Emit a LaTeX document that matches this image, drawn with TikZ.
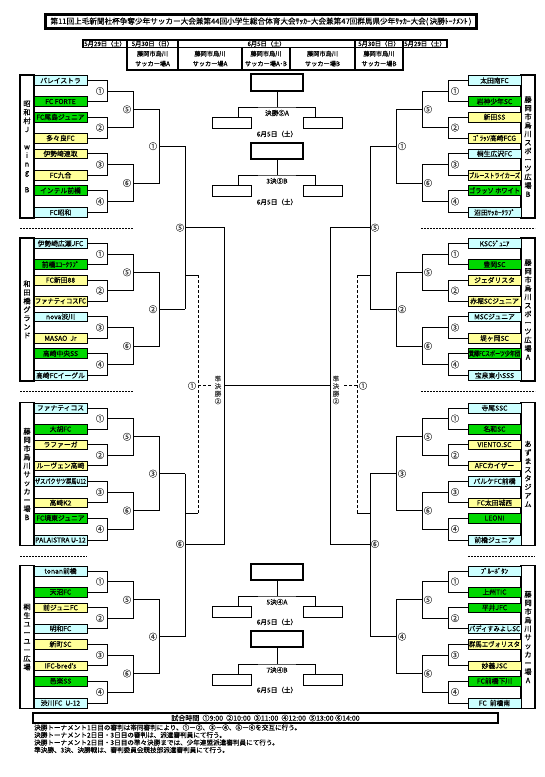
\documentclass[tikz,border=0pt]{standalone}
\usepackage{fontspec}
\setmainfont{Noto Sans CJK JP}[FakeBold=0.35]
\usetikzlibrary{calc}
\definecolor{cy}{RGB}{204,255,255}
\definecolor{gr}{RGB}{0,215,0}
\definecolor{ye}{RGB}{255,255,153}
\newsavebox\fitbox
\newcommand\fitt[2]{\sbox\fitbox{#2}\ifdim\wd\fitbox>#1\resizebox{#1}{\ht\fitbox}{\usebox\fitbox}\else\usebox\fitbox\fi}
\newcommand\teamgroup[4]{%
  \foreach \c/\t [count=\i from 0] in {#4} {%
    \pgfmathsetmacro\yy{#3+{0,21,36.6,57.6,73.2,94.8,110,132}[\i]}%
    \node[team, fill=\c] (#1-\i) at (#2,\yy) {\fitt{51pt}{\t}};
  }}
% left brackets
\newcommand\bracketL[2]{%
  \foreach \p/\lab in {0/①,1/②,2/③,3/④} {%
    \pgfmathtruncatemacro\a{2*\p}\pgfmathtruncatemacro\b{2*\p+1}%
    \draw[br] (#1-\a.east) -- (#1-\a.east -| xL1) -- (#1-\b.east -| xL1) -- (#1-\b.east);
    \coordinate (#1-m\p) at ($(#1-\a.east -| xL1)!0.5!(#1-\b.east -| xL1)$);
    \node[rl] at ($(#1-m\p)+(-7,0)$) {\lab};
  }
  \draw[br] (#1-m0) -- (#1-m0 -| xL2) -- (#1-m1 -| xL2) -- (#1-m1);
  \coordinate (#1-n0) at ($(#1-m0 -| xL2)!0.5!(#1-m1 -| xL2)$);
  \node[rl] at ($(#1-n0)+(-6,0)$) {⑤};
  \draw[br] (#1-m2) -- (#1-m2 -| xL2) -- (#1-m3 -| xL2) -- (#1-m3);
  \coordinate (#1-n1) at ($(#1-m2 -| xL2)!0.5!(#1-m3 -| xL2)$);
  \node[rl] at ($(#1-n1)+(-6,0)$) {⑥};
  \draw[br] (#1-n0) -- (#1-n0 -| xL3) -- (#1-n1 -| xL3) -- (#1-n1);
  \coordinate (#1-p) at ($(#1-n0 -| xL3)!0.5!(#1-n1 -| xL3)$);
  \node[rl] at ($(#1-p)+(-6,0)$) {#2};
  \draw[br] (#1-p) -- (#1-p -| xL4);
  \coordinate (#1-q) at (#1-p -| xL4);
}
\newcommand\bracketR[2]{%
  \foreach \p/\lab in {0/①,1/②,2/③,3/④} {%
    \pgfmathtruncatemacro\a{2*\p}\pgfmathtruncatemacro\b{2*\p+1}%
    \draw[br] (#1-\a.west) -- (#1-\a.west -| xR1) -- (#1-\b.west -| xR1) -- (#1-\b.west);
    \coordinate (#1-m\p) at ($(#1-\a.west -| xR1)!0.5!(#1-\b.west -| xR1)$);
    \node[rl] at ($(#1-m\p)+(7,0)$) {\lab};
  }
  \draw[br] (#1-m0) -- (#1-m0 -| xR2) -- (#1-m1 -| xR2) -- (#1-m1);
  \coordinate (#1-n0) at ($(#1-m0 -| xR2)!0.5!(#1-m1 -| xR2)$);
  \node[rl] at ($(#1-n0)+(6,0)$) {⑤};
  \draw[br] (#1-m2) -- (#1-m2 -| xR2) -- (#1-m3 -| xR2) -- (#1-m3);
  \coordinate (#1-n1) at ($(#1-m2 -| xR2)!0.5!(#1-m3 -| xR2)$);
  \node[rl] at ($(#1-n1)+(6,0)$) {⑥};
  \draw[br] (#1-n0) -- (#1-n0 -| xR3) -- (#1-n1 -| xR3) -- (#1-n1);
  \coordinate (#1-p) at ($(#1-n0 -| xR3)!0.5!(#1-n1 -| xR3)$);
  \node[rl] at ($(#1-p)+(6,0)$) {#2};
  \draw[br] (#1-p) -- (#1-p -| xR4);
  \coordinate (#1-q) at (#1-p -| xR4);
}
\begin{document}
\begin{tikzpicture}[x=1pt,y=-1pt,
 br/.style={line width=0.8pt},
 dsh/.style={line width=0.8pt,dash pattern=on 3pt off 2pt},
 team/.style={draw,line width=0.6pt,minimum width=53pt,minimum height=9.6pt,inner sep=0pt,font=\fontsize{6.8}{7}\selectfont},
 lab/.style={draw,line width=1.7pt,minimum width=14pt,minimum height=143pt,inner sep=0pt,align=center,font=\fontsize{7.2}{8.6}\selectfont},
 rl/.style={inner sep=0pt,font=\fontsize{8.5}{9}\selectfont,text=black!75},
 hcell/.style={draw,line width=1.4pt,inner sep=0pt,align=center,font=\fontsize{6.2}{10}\selectfont},
 sep/.style={line width=0.6pt,dash pattern=on 2pt off 1pt},
 fbox/.style={draw,line width=0.9pt,minimum width=39pt,minimum height=11pt,inner sep=0pt},
 wbox/.style={draw,minimum width=52pt,inner sep=0pt},
 small/.style={inner sep=0pt,font=\fontsize{6.6}{7}\selectfont},
]
\useasboundingbox (0,0) rectangle (545,777);
% title
\node[draw,line width=1.5pt,minimum width=432pt,minimum height=15pt,inner sep=0pt] (title) at (261,21.5)
  {\resizebox{421pt}{!}{\fontsize{7.5}{8}\selectfont 第11回上毛新聞社杯争奪少年サッカー大会兼第44回小学生総合体育大会ｻｯｶｰ大会兼第47回群馬県少年ｻｯｶｰ大会(\,決勝ﾄｰﾅﾒﾝﾄ\,)}};
\draw[line width=0.5pt] ($(title.south west)+(2.2,-2.2)$) rectangle ($(title.north east)+(-2.2,2.2)$);
% header
\node[hcell,minimum width=44pt,minimum height=7.3pt] (d1) at (105,43.7) {5月29日（土）};
\node[hcell,minimum width=51pt,minimum height=7.3pt] (d2) at (152.5,43.7) {5月30日（日）};
\node[hcell,minimum width=177pt,minimum height=7.3pt] (d3) at (266.5,43.7) {6月5日（土）};
\node[hcell,minimum width=48pt,minimum height=7.3pt] (d4) at (379,43.7) {5月30日（日）};
\node[hcell,minimum width=44pt,minimum height=7.3pt] (d5) at (425,43.7) {5月29日（土）};
\node[hcell,minimum width=51pt,minimum height=22.7pt] (v1) at (152.5,58.65) {藤岡市烏川\\サッカー場A};
\node[hcell,minimum width=64pt,minimum height=22.7pt] (v2) at (210,58.65) {藤岡市烏川\\サッカー場A};
\node[hcell,minimum width=48pt,minimum height=22.7pt] (v3) at (266,58.65) {藤岡市烏川\\サッカー場A･B};
\node[hcell,minimum width=65pt,minimum height=22.7pt] (v4) at (322.5,58.65) {藤岡市烏川\\サッカー場B};
\node[hcell,minimum width=48pt,minimum height=22.7pt] (v5) at (379,58.65) {藤岡市烏川\\サッカー場B};
% column x positions
\coordinate (xL1) at (107,0); \coordinate (xL2) at (133,0); \coordinate (xL3) at (159,0); \coordinate (xL4) at (185,0); \coordinate (xL5) at (198,0); \coordinate (xLc) at (224,0);
\coordinate (xR1) at (448,0); \coordinate (xR2) at (422,0); \coordinate (xR3) at (396,0); \coordinate (xR4) at (370,0); \coordinate (xR5) at (357,0); \coordinate (xRc) at (330,0);
% venue labels
\node[lab] (LV1) at (27,146.5) {昭\\和\\村\\J\\~\\w\\i\\n\\g\\~\\B};
\node[lab] (LV2) at (27,309.5) {和\\田\\橋\\グ\\ラ\\ン\\ド};
\node[lab] (LV3) at (27,474) {藤\\岡\\市\\烏\\川\\サ\\ッ\\カ\\ー\\場\\B};
\node[lab] (LV4) at (27,637) {桐\\生\\ユ\\ー\\ユ\\ー\\広\\場};
\node[lab] (RV1) at (528,146.5) {藤\\岡\\市\\烏\\川\\ス\\ポ\\ー\\ツ\\広\\場\\B};
\node[lab] (RV2) at (528,309.5) {藤\\岡\\市\\烏\\川\\ス\\ポ\\ー\\ツ\\広\\場\\A};
\node[lab] (RV3) at (528,474) {あ\\ず\\ま\\ス\\タ\\ジ\\ア\\ム};
\node[lab] (RV4) at (528,637) {藤\\岡\\市\\烏\\川\\サ\\ッ\\カ\\ー\\場\\A};
% teams
\teamgroup{L1}{60.5}{80.5}{cy/パレイストラ,gr/FC FORTE,gr/FC尾島ジュニア,ye/多々良FC,ye/伊勢崎連取,ye/FC九合,gr/インテル前橋,cy/FC昭和}
\teamgroup{L2}{60.5}{243.5}{cy/伊勢崎広瀬JFC,gr/前橋ｴｺｰｸﾗﾌﾞ,ye/FC新田88,ye/ファナティコスFC,cy/nova渋川,ye/MASAO\ \ Jr,gr/高崎中央SS,cy/高崎FCイーグル}
\teamgroup{L3}{60.5}{408}{cy/ファナティコス,gr/大胡FC,ye/ラファーガ,ye/ルーヴェン高崎,cy/ザスパクサツ群馬U12,ye/高崎K2,gr/FC境東ジュニア,cy/PALAISTRA U-12}
\teamgroup{L4}{60.5}{571}{cy/tonan前橋,gr/天沼FC,ye/前ジュニFC,cy/明和FC,ye/新町SC,ye/IFC-bred's,gr/邑楽SS,cy/渋川FC\ \ U-12}
\teamgroup{R1}{494.5}{80.5}{cy/太田南FC,gr/岩神少年SC,ye/新田SS,ye/ｺﾞﾗｯｿ高崎FCG,cy/桐生広沢FC,ye/ブルーストライカーズ,gr/ゴラッソ ホワイト,cy/沼田ｻｯｶｰｸﾗﾌﾞ}
\teamgroup{R2}{494.5}{243.5}{cy/KSCｼﾞｭﾆｱ,gr/豊岡SC,ye/ジェダリスタ,ye/赤堀SCジュニア,cy/MSCジュニア,ye/堤ヶ岡SC,gr/箕郷FCスポーツ少年団,cy/宝泉東小SSS}
\teamgroup{R3}{494.5}{408}{cy/寺尾SSC,gr/名和SC,ye/VIENTO.SC,ye/AFCカイザー,cy/パルケFC前橋,ye/FC太田城西,gr/LEONI,cy/前橋ジュニア}
\teamgroup{R4}{494.5}{571}{cy/ﾌﾞﾙｰﾎﾞﾀﾝ,gr/上州TIC,gr/平井JFC,cy/バディすみよしSC,ye/群馬エヴォリスタ,ye/妙義JSC,gr/FC前橋下川,cy/FC\ \ 前橋南}
% brackets
\bracketL{L1}{①}\bracketL{L2}{②}\bracketL{L3}{③}\bracketL{L4}{④}
\bracketR{R1}{①}\bracketR{R2}{②}\bracketR{R3}{③}\bracketR{R4}{④}
% level 4 (quarter finals)
\draw[br] (L1-q) -- (L2-q); \coordinate (L12) at ($(L1-q)!0.5!(L2-q)$); \node[rl] at ($(L12)+(-5,0)$) {⑤};
\draw[br] (L3-q) -- (L4-q); \coordinate (L34) at (185,544); \node[rl] at ($(L34)+(-5,0)$) {⑥};
\draw[br] (R1-q) -- (R2-q); \coordinate (R12) at ($(R1-q)!0.5!(R2-q)$); \node[rl] at ($(R12)+(5,0)$) {⑤};
\draw[br] (R3-q) -- (R4-q); \coordinate (R34) at (370,544); \node[rl] at ($(R34)+(5,0)$) {⑥};
% semifinal brackets (solid) and centre line
\draw[br] (L12) -- (L12 -| xLc) -- (L34 -| xLc) -- (L34);
\coordinate (LC) at ($(L12 -| xLc)!0.5!(L34 -| xLc)$);
\draw[br] (R12) -- (R12 -| xRc) -- (R34 -| xRc) -- (R34);
\coordinate (RC) at ($(R12 -| xRc)!0.5!(R34 -| xRc)$);
\draw[br] (LC) -- (RC);
\node[rl,align=center,font=\fontsize{6.5}{7.5}\selectfont] (sfL) at (218,390) {準\\決\\勝\\②};
\node[rl,align=center,font=\fontsize{6.5}{7.5}\selectfont] (sfR) at (336,390) {準\\決\\勝\\②};
% dashed feeders
\coordinate (Lst) at (185,275); \coordinate (Lsb) at (185,513);
\draw[br] (Lst) -- (Lst -| xL5); \draw[br] (Lsb) -- (Lsb -| xL5);
\draw[dsh] (Lst -| xL5) -- (Lsb -| xL5);
\draw[dsh] (LC -| xL5) -- ++(14,0);
\node[rl] at ($(LC -| xL5)+(-6,0)$) {①};
\coordinate (Rst) at (370,275); \coordinate (Rsb) at (370,513);
\draw[br] (Rst) -- (Rst -| xR5); \draw[br] (Rsb) -- (Rsb -| xR5);
\draw[dsh] (Rst -| xR5) -- (Rsb -| xR5);
\draw[dsh] (RC -| xR5) -- ++(-14,0);
\node[rl] at ($(RC -| xR5)+(6,0)$) {①};
% finals
\node[wbox,line width=1.6pt,minimum height=17pt] (F1) at (277,82.5) {};
\node[fbox] (F1L) at (231.5,122.5) {}; \node[fbox] (F1R) at (322.5,122.5) {};
\coordinate (F1j) at (277,107);
\draw[br] (F1.south) -- (F1j);
\draw[br] ($(F1L.north east)+(-13,0)$) |- (F1j) -| ($(F1R.north west)+(13,0)$);
\node[small] at (277,113) {決勝⑤A};
\node[small] at (277,134) {6月5日（土）};
\node[wbox,line width=1.3pt,minimum height=16pt] (F2) at (277,151) {};
\node[fbox] (F2L) at (231.5,190.5) {}; \node[fbox] (F2R) at (322.5,190.5) {};
\coordinate (F2j) at (277,175);
\draw[br] (F2.south) -- (F2j);
\draw[br] ($(F2L.north east)+(-13,0)$) |- (F2j) -| ($(F2R.north west)+(13,0)$);
\node[small] at (277,181) {3決⑤B};
\node[small] at (277,202) {6月5日（土）};
\node[wbox,line width=1.3pt,minimum height=16pt] (F3) at (277,572) {};
\node[fbox] (F3L) at (231.5,611.5) {}; \node[fbox] (F3R) at (322.5,611.5) {};
\coordinate (F3j) at (277,596);
\draw[br] (F3.south) -- (F3j);
\draw[br] ($(F3L.north east)+(-13,0)$) |- (F3j) -| ($(F3R.north west)+(13,0)$);
\node[small] at (277,602) {5決④A};
\node[small] at (277,622) {6月5日（土）};
\node[wbox,line width=1.3pt,minimum height=16pt] (F4) at (277,639) {};
\node[fbox] (F4L) at (231.5,679.5) {}; \node[fbox] (F4R) at (322.5,679.5) {};
\coordinate (F4j) at (277,664);
\draw[br] (F4.south) -- (F4j);
\draw[br] ($(F4L.north east)+(-13,0)$) |- (F4j) -| ($(F4R.north west)+(13,0)$);
\node[small] at (277,670) {7決④B};
\node[small] at (277,690) {6月5日（土）};
% separators
\draw[sep] (20,228) -- (133,228); \draw[sep] (20,391) -- (133,391); \draw[sep] (20,556) -- (87,556);
\draw[sep] (421,228) -- (535,228); \draw[sep] (421,391) -- (535,391); \draw[sep] (468,556) -- (535,556);
% match time and notes
\node[draw,line width=1.3pt,minimum width=465pt,minimum height=10pt,inner sep=0pt,font=\fontsize{7}{7}\selectfont] (mt) at (265.5,718) {試合時間\ \ ①9:00\ \ ②10:00\ \ ③11:00\ \ ④12:00\ \ ⑤13:00\ ⑥14:00};
\node[small,anchor=west,font=\fontsize{6.6}{7}\selectfont] (n1) at (34,727.5) {決勝トーナメント1日目の審判は帯同審判により、①－②、③－④、⑤－⑥を交互に行う。};
\node[small,anchor=west,font=\fontsize{6.6}{7}\selectfont] (n2) at (34,735) {決勝トーナメント2日目・3日目の審判は、派遣審判員にて行う。};
\node[small,anchor=west,font=\fontsize{6.6}{7}\selectfont] (n3) at (34,742.5) {決勝トーナメント2日目・3日目の準々決勝までは、少年連盟派遣審判員にて行う。};
\node[small,anchor=west,font=\fontsize{6.6}{7}\selectfont] (n4) at (34,750) {準決勝、3決、決勝戦は、審判委員会競技部派遣審判員にて行う。};
\end{tikzpicture}
\end{document}
